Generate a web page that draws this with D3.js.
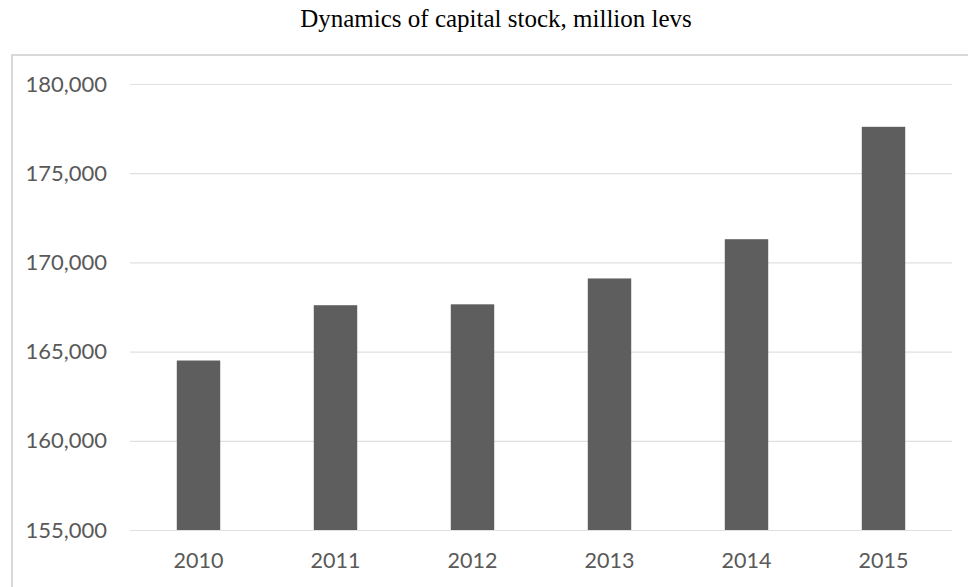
<!DOCTYPE html>
<html>
<head>
<meta charset="utf-8">
<script src="https://cdn.jsdelivr.net/npm/d3@7"></script>
<style>
  html, body { margin: 0; padding: 0; background: #fff; }
  svg { display: block; }
</style>
</head>
<body>
<svg id="chart" width="968" height="587"></svg>
<script>
// Capital stock by year, million levs
const years = ["2010", "2011", "2012", "2013", "2014", "2015"];
const capitalStock = [164500, 167600, 167650, 169100, 171300, 177600];
const yTicks = [155000, 160000, 165000, 170000, 175000, 180000];

const svg = d3.select("#chart");
const W = 968, H = 587;
const plot = { left: 130, right: 952, top: 84, bottom: 530 };

// chart frame (runs past the right and bottom edges)
svg.append("rect")
  .attr("x", 12).attr("y", 55)
  .attr("width", W + 20).attr("height", H)
  .attr("fill", "#fff")
  .attr("stroke", "#d9d9d9")
  .attr("stroke-width", 2);

// title
svg.append("text")
  .attr("x", 496).attr("y", 27)
  .attr("text-anchor", "middle")
  .attr("font-family", "'Liberation Serif', 'Times New Roman', serif")
  .attr("font-size", 25)
  .attr("fill", "#000")
  .text("Dynamics of capital stock, million levs");

const x = d3.scaleBand()
  .domain(years)
  .range([plot.left, plot.right])
  .paddingInner(0.683)
  .paddingOuter(0.3415);

const y = d3.scaleLinear()
  .domain([155000, 180000])
  .range([plot.bottom, plot.top]);

// horizontal gridlines and value labels
const yAxis = d3.axisLeft(y)
  .tickValues(yTicks)
  .tickSize(-(plot.right - plot.left))
  .tickPadding(23)
  .tickFormat(d3.format(","));

const gy = svg.append("g")
  .attr("transform", `translate(${plot.left},0)`)
  .call(yAxis);
gy.select(".domain").remove();
gy.selectAll(".tick line").attr("stroke", "#e0e0e0").attr("stroke-width", 1.2);
gy.selectAll(".tick text")
  .attr("font-family", "Lato, 'Open Sans', sans-serif")
  .attr("font-size", 22)
  .attr("fill", "#595959");

// bars
svg.append("g")
  .selectAll("rect")
  .data(years.map((yr, i) => ({ yr, v: capitalStock[i] })))
  .join("rect")
  .attr("x", d => x(d.yr))
  .attr("y", d => y(d.v))
  .attr("width", x.bandwidth())
  .attr("height", d => y(155000) - y(d.v))
  .attr("fill", "#5e5e5e");

// category labels
const xAxis = d3.axisBottom(x).tickSize(0).tickPadding(23);
const gx = svg.append("g")
  .attr("transform", `translate(0,${plot.bottom})`)
  .call(xAxis);
gx.select(".domain").remove();
gx.selectAll(".tick text")
  .attr("font-family", "Lato, 'Open Sans', sans-serif")
  .attr("font-size", 21.5)
  .attr("fill", "#595959");
</script>
</body>
</html>
